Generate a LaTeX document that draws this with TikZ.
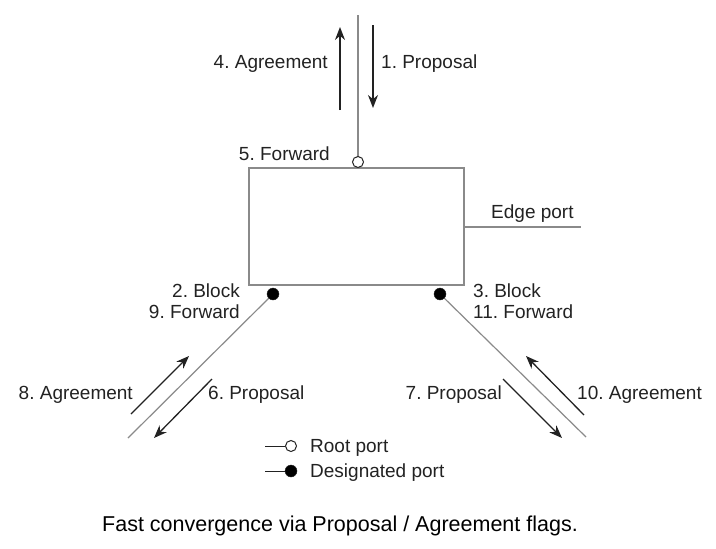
\documentclass[tikz,border=0pt]{standalone}
\usepackage{fontspec}
\setmainfont{Liberation Sans}
\usetikzlibrary{arrows.meta}
\definecolor{PortGrey}{HTML}{8A8A8A}
\definecolor{MsgDark}{HTML}{222222}
\frenchspacing

\begin{document}
\begin{tikzpicture}[
    x=1pt, y=-1pt,
    every node/.style={font=\fontsize{19}{21}\selectfont, text=MsgDark, inner sep=0pt},
    switch/.style={draw=PortGrey, line width=1.2pt, rectangle, minimum width=215pt, minimum height=117pt},
    rootport/.style={draw=MsgDark, fill=white, circle, line width=1pt, minimum size=11pt},
    desigport/.style={draw=MsgDark, fill=black, circle, minimum size=12pt},
    link/.style={draw=PortGrey, line width=1.2pt},
    msg/.style={draw=MsgDark, line width=1.3pt, -{Stealth[length=13pt, width=10pt]}}
  ]
    \useasboundingbox (0,0) rectangle (716,549);
    % the bridge and its ports
    \node[switch] (bridge) at (356.5,226.5) {};
    \coordinate (uplink) at (358,15);
    \coordinate (edgeend) at (581,227);
    \coordinate (leftend) at (128,438);
    \coordinate (rightend) at (586,437);
    \draw[link] (bridge.east |- edgeend) -- (edgeend);
    \draw[link] (uplink) -- (358,162);
    \draw[link] (273,294) -- (leftend);
    \draw[link] (440,294) -- (rightend);
    \node[rootport] (root) at (358,162) {};
    \node[desigport] (dleft) at (273,294) {};
    \node[desigport] (dright) at (440,294) {};

    % messages on the root link
    \coordinate (a4s) at (340,110); \coordinate (a4e) at (340,27);
    \coordinate (p1s) at (373,25);  \coordinate (p1e) at (373,108);
    \draw[msg] (a4s) -- (a4e);
    \draw[msg] (p1s) -- (p1e);
    \node[anchor=east] (agr4) at (328,64) {4. Agreement};
    \node[anchor=west] (prop1) at (381,64) {1. Proposal};
    \node[anchor=east] (fwd5) at (330,154) {5. Forward};
    \node[anchor=west] (edge) at (491,214) {Edge port};

    % messages on the left link
    \coordinate (a8s) at (131,414); \coordinate (a8e) at (189,356);
    \coordinate (p6s) at (212,379); \coordinate (p6e) at (154,438);
    \draw[msg] (a8s) -- (a8e);
    \draw[msg] (p6s) -- (p6e);
    \node[anchor=east] (agr8) at (133,395) {8. Agreement};
    \node[anchor=west] (prop6) at (208,395) {6. Proposal};
    \node[anchor=east] (blk2) at (240,291) {2. Block};
    \node[anchor=east] (fwd9) at (240,312) {9. Forward};

    % messages on the right link
    \coordinate (p7s) at (503,379); \coordinate (p7e) at (562,438);
    \coordinate (a10s) at (584,415); \coordinate (a10e) at (526,356);
    \draw[msg] (p7s) -- (p7e);
    \draw[msg] (a10s) -- (a10e);
    \node[anchor=east] (prop7) at (502,395) {7. Proposal};
    \node[anchor=west] (agr10) at (577,395) {10. Agreement};
    \node[anchor=west] (blk3) at (473,291) {3. Block};
    \node[anchor=west] (fwd11) at (473,312) {11. Forward};

    % legend
    \node[rootport] (lroot) at (291,446) {};
    \node[desigport] (ldesig) at (291,471) {};
    \coordinate (lrootend) at (265,446);
    \coordinate (ldesigend) at (265,471);
    \draw[link, draw=MsgDark, line width=1pt] (lrootend) -- (lroot);
    \draw[link, draw=MsgDark, line width=1pt] (ldesigend) -- (ldesig);
    \node[anchor=west] (lroottxt) at (310,448) {Root port};
    \node[anchor=west] (ldesigtxt) at (310,473) {Designated port};

    \node[font=\fontsize{21.5}{24}\selectfont, text=black] (caption) at (340,526) {Fast convergence via Proposal / Agreement flags.};
\end{tikzpicture}
\end{document}
